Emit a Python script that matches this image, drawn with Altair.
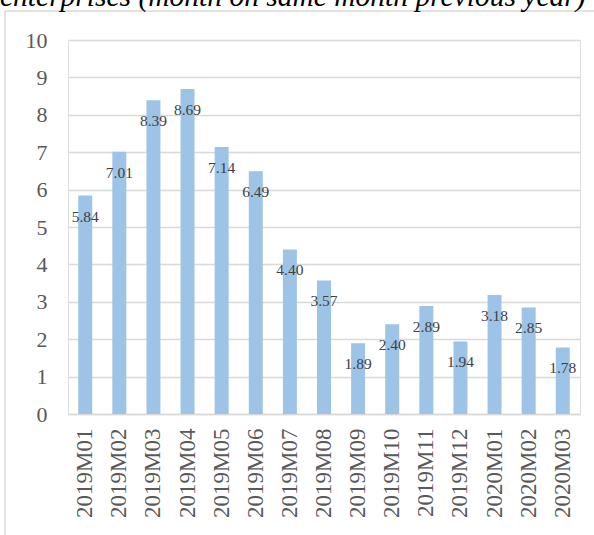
import altair as alt
import pandas as pd

# Monthly growth rate, month on same month previous year
months = ["2019M01", "2019M02", "2019M03", "2019M04", "2019M05", "2019M06",
          "2019M07", "2019M08", "2019M09", "2019M10", "2019M11", "2019M12",
          "2020M01", "2020M02", "2020M03"]
values = [5.84, 7.01, 8.39, 8.69, 7.14, 6.49, 4.40, 3.57, 1.89, 2.40,
          2.89, 1.94, 3.18, 2.85, 1.78]
y_ticks = list(range(0, 11))
title_text = "enterprises (month on same month previous year)"

df = pd.DataFrame({"month": months, "value": values})
df["label"] = [f"{v:.2f}" for v in values]

SERIF = "Liberation Serif"
W, H = 512, 374

x_enc = alt.X("month:N", sort=months, title=None,
              scale=alt.Scale(paddingInner=0.59, paddingOuter=0.3),
              axis=alt.Axis(labelAngle=-90, labelFont=SERIF, labelFontSize=23,
                            labelColor="#595959", labelPadding=14,
                            domain=True, domainColor="#d9d9d9", domainWidth=1.5,
                            ticks=False, labelAlign="right", labelBaseline="middle"))
y_enc = alt.Y("value:Q", title=None,
              scale=alt.Scale(domain=[0, 10], nice=False),
              axis=alt.Axis(values=y_ticks, labelFont=SERIF, labelFontSize=22,
                            labelColor="#595959", labelPadding=21,
                            labelOverlap=False,
                            domain=False, ticks=False, grid=True,
                            gridColor="#d9d9d9", gridWidth=1.5))

base = alt.Chart(df)

bars = base.mark_bar(color="#9DC3E6").encode(x=x_enc, y=y_enc)

labels = base.mark_text(font=SERIF, fontSize=15.5, color="#404040",
                        baseline="middle", dy=21).encode(
    x=x_enc, y=y_enc, text="label:N")

# single-row source for the decoration marks
one = alt.Chart(pd.DataFrame({"k": [0]}))

# outer frame lines of the chart box
frame_left = one.mark_rule(color="#d9d9d9", strokeWidth=1.5).encode(
    x=alt.value(-63), y=alt.value(-29), y2=alt.value(H + 125))
frame_top = one.mark_rule(color="#d9d9d9", strokeWidth=1.5).encode(
    x=alt.value(-63), x2=alt.value(W + 20), y=alt.value(-29))

heading = one.mark_text(font=SERIF, fontStyle="italic", fontSize=29.5,
                        color="#000000", align="left",
                        baseline="alphabetic").encode(
    x=alt.value(-68), y=alt.value(-34), text=alt.value(title_text))

chart = alt.layer(bars, labels, frame_left, frame_top, heading).properties(
    width=W, height=H,
    autosize=alt.AutoSizeParams(type="none"),
    padding={"left": 68, "top": 40, "right": 14, "bottom": 121},
).configure_view(stroke=None).configure(background="white")

chart.save("out.html", embed_options={"renderer": "svg", "actions": False})
